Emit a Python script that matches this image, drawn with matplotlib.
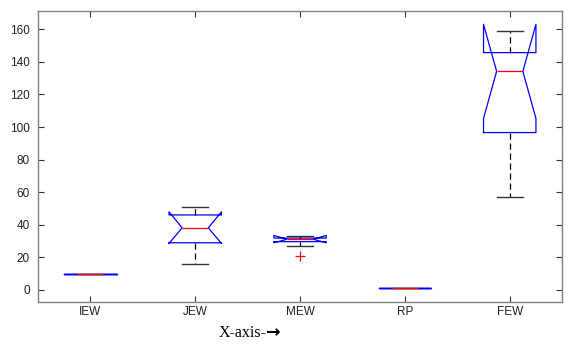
import matplotlib.pyplot as plt

# --- DATA ---
labels = ["IEW", "JEW", "MEW", "RP", "FEW"]
medians = [10.0, 38.1, 31.1, 1.4, 134.2]
q1s = [10.0, 28.9, 29.6, 1.4, 96.6]
q3s = [10.0, 46.0, 31.8, 1.4, 145.7]
whis_lo = [10.0, 16.1, 27.2, 1.4, 57.3]
whis_hi = [10.0, 51.1, 33.1, 1.4, 159.0]
notch_lo = [10.0, 28.5, 28.9, 1.4, 105.3]
notch_hi = [10.0, 47.9, 33.4, 1.4, 163.1]
outliers = [[], [], [21.0], [], []]
yticks = [0, 20, 40, 60, 80, 100, 120, 140, 160]

stats = []
for i, lab in enumerate(labels):
    stats.append({
        "label": lab,
        "med": medians[i],
        "q1": q1s[i],
        "q3": q3s[i],
        "whislo": whis_lo[i],
        "whishi": whis_hi[i],
        "cilo": notch_lo[i],
        "cihi": notch_hi[i],
        "fliers": outliers[i],
    })

# --- PLOT ---
fig = plt.figure(figsize=(5.71, 3.47), dpi=100)
ax = fig.add_axes([0.0665, 0.13, 0.918, 0.838])

ax.bxp(
    stats,
    positions=range(1, len(labels) + 1),
    widths=0.5,
    shownotches=True,
    boxprops=dict(color="blue", linewidth=0.9),
    medianprops=dict(color="red", linewidth=0.9),
    whiskerprops=dict(color="black", linewidth=0.9, linestyle=(0, (5, 3))),
    capprops=dict(color="#333333", linewidth=1.0),
    flierprops=dict(marker="+", markeredgecolor="red", markersize=7,
                    markeredgewidth=0.9, linestyle="none"),
)

ax.set_xlim(0.5, 5.5)
ax.set_ylim(-7.4, 171.2)
ax.set_yticks(yticks)
ax.set_xticks(range(1, len(labels) + 1))
ax.set_xticklabels(labels)

for side in ["left", "right", "top", "bottom"]:
    ax.spines[side].set_color("#808080")
    ax.spines[side].set_linewidth(1.0)

ax.tick_params(direction="in", top=True, right=True, length=4,
               width=0.8, color="#333333", labelsize=8.5, labelcolor="#222222")
ax.tick_params(axis="y", pad=6)
ax.tick_params(axis="x", pad=3)
for t in ax.get_xticklabels() + ax.get_yticklabels():
    t.set_family("Liberation Sans")

# axis caption below the plot, arrow drawn from a font with a heavier glyph
fig.text(0.383, 0.04, "X-axis-", fontsize=11.5,
         family="Liberation Serif", ha="left", va="center")
fig.text(0.466, 0.043, "\u2192", fontsize=12.5, weight="bold",
         family="DejaVu Sans", ha="left", va="center")

fig.savefig("out.png", dpi=100)
